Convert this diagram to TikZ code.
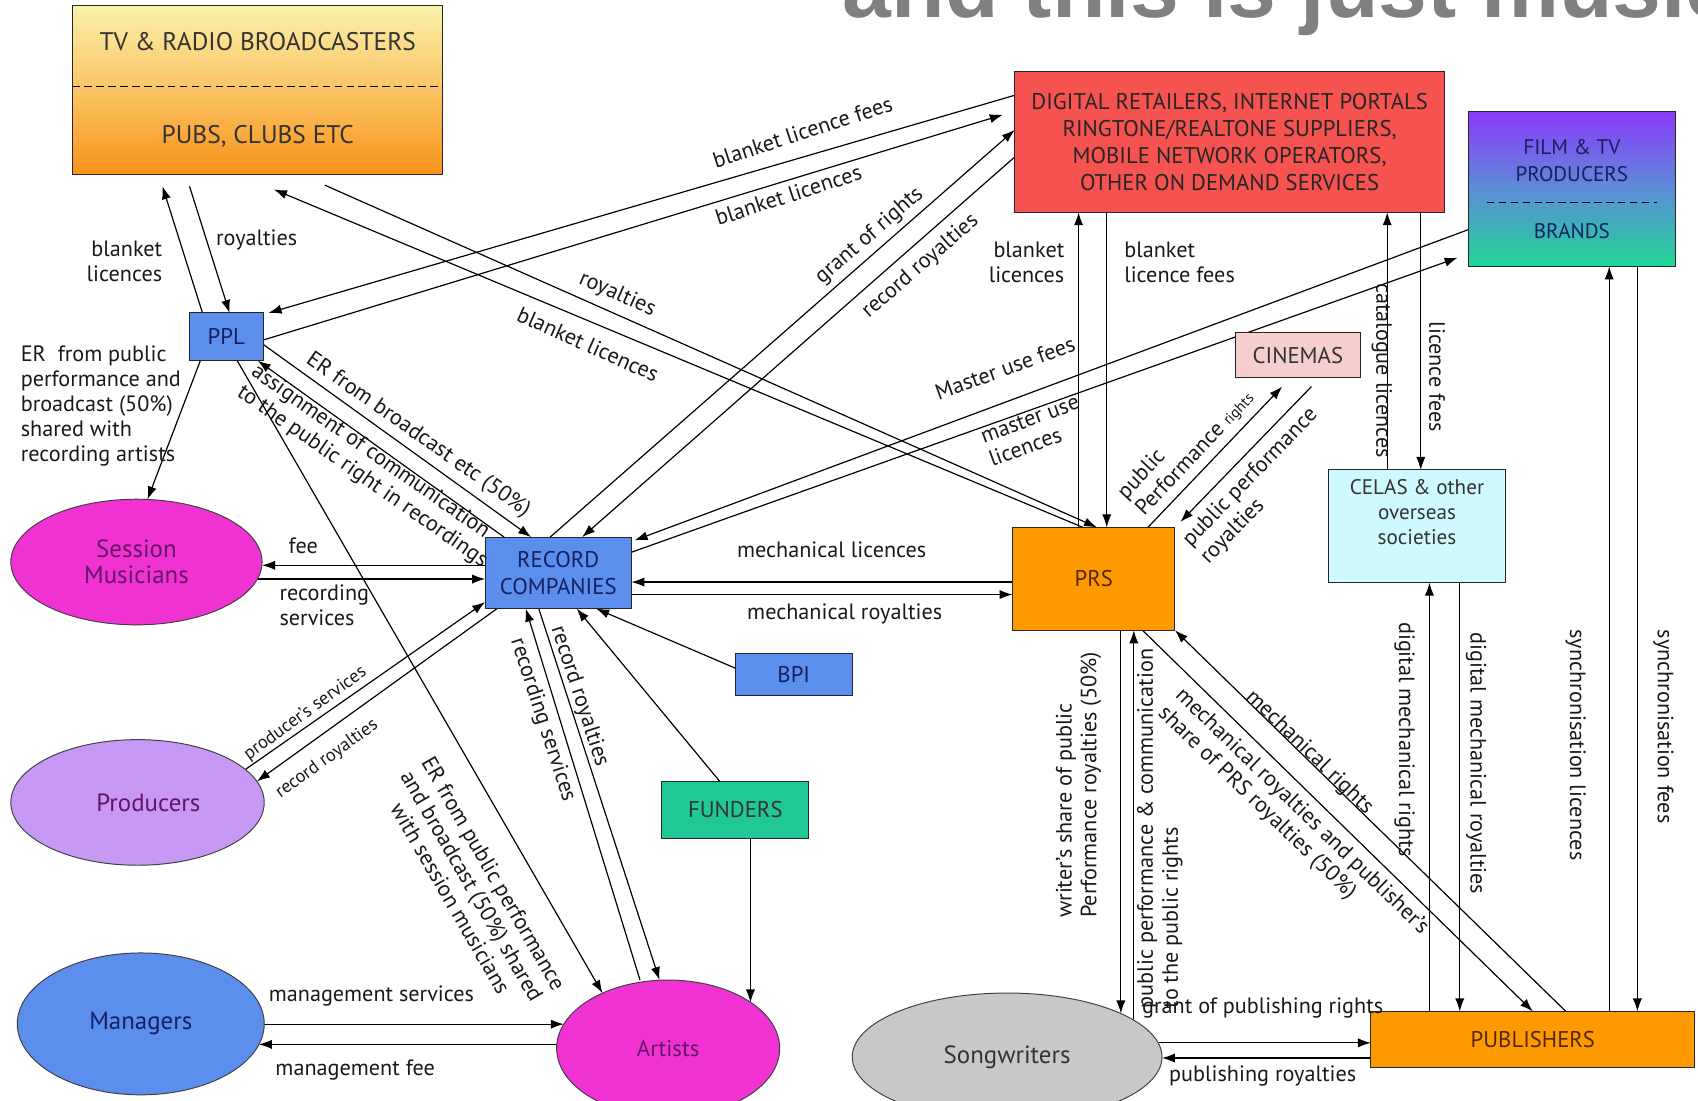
\documentclass[tikz,border=0pt]{standalone}
\usepackage{fontspec}
\setmainfont{PT Sans}
\newfontfamily\titlefont{Liberation Sans}
\usetikzlibrary{shapes.geometric,arrows.meta}

\definecolor{recblue}{RGB}{92,142,238}
\definecolor{hotpink}{RGB}{240,50,210}
\definecolor{lavender}{RGB}{200,152,245}
\definecolor{retred}{RGB}{245,82,80}
\definecolor{prsorange}{RGB}{255,153,0}
\definecolor{cinpink}{RGB}{246,206,206}
\definecolor{celascyan}{RGB}{206,250,255}
\definecolor{fundgreen}{RGB}{32,200,150}
\definecolor{songgray}{RGB}{200,200,200}
\definecolor{tvtop}{RGB}{251,241,170}
\definecolor{tvmid}{RGB}{250,196,100}
\definecolor{tvbot}{RGB}{248,146,26}
\definecolor{filmtop}{RGB}{140,58,250}
\definecolor{filmmid}{RGB}{92,140,215}
\definecolor{filmbot}{RGB}{32,215,150}
\definecolor{navytext}{RGB}{22,32,96}
\definecolor{purpletext}{RGB}{100,20,100}
\definecolor{browntext}{RGB}{80,40,0}
\definecolor{titlegray}{RGB}{128,128,128}

\newcommand{\boxfont}{\fontsize{21}{25}\selectfont}
\newcommand{\bigboxfont}{\fontsize{23}{24}\selectfont}
\newcommand{\smallboxfont}{\fontsize{19.5}{24}\selectfont}
\newcommand{\lblfont}{\fontsize{20.5}{23}\selectfont}
\newcommand{\minorlbl}{\fontsize{17}{19}\selectfont}
\newcommand{\tinylbl}{\fontsize{14}{16}\selectfont}

\pgfdeclarelayer{background}
\pgfsetlayers{background,main}

\tikzset{
  box/.style={draw=black!85, line width=0.9pt, rectangle, inner sep=0pt, outer sep=0pt, align=center, font=\boxfont},
  oval/.style={draw=black!75, line width=0.9pt, ellipse, inner sep=0pt, outer sep=0pt, align=center, font=\bigboxfont},
  lbl/.style={inner sep=0pt, align=center, font=\lblfont, text=black!90},
  flow/.style={-{Latex[length=12pt,width=8.5pt]}, line width=1.1pt},
  divider/.style={line width=1pt, dash pattern=on 7pt off 4pt},
}

\begin{document}
\begin{tikzpicture}[x=1pt,y=-1pt]
  \useasboundingbox (0,0) rectangle (1568,1016);

  % Define nodes
  \node[anchor=base west, inner sep=0pt, text=titlegray, font=\titlefont\bfseries\fontsize{81}{81}\selectfont] (title) at (778,16) {and this is just music};
  \node[box, font=\fontsize{23.5}{25}\selectfont, minimum width=342pt, minimum height=156pt, top color=tvtop, bottom color=tvbot, middle color=tvmid, text=black!80] (tvpubs) at (238,83) {TV \& RADIO BROADCASTERS\\[61pt]PUBS, CLUBS ETC};
  \node[box, minimum width=397pt, minimum height=130pt, fill=retred, text=black!85] (digital) at (1135.5,131) {DIGITAL RETAILERS, INTERNET PORTALS\\RINGTONE/REALTONE SUPPLIERS,\\MOBILE NETWORK OPERATORS,\\OTHER ON DEMAND SERVICES};
  \node[box, font=\smallboxfont, minimum width=191pt, minimum height=143pt, top color=filmtop, bottom color=filmbot, middle color=filmmid, text=navytext] (film) at (1451.5,174.5) {FILM \& TV\\[1pt]PRODUCERS\\[28pt]BRANDS};
  \node[box, minimum width=68pt, minimum height=44pt, fill=recblue, text=navytext] (ppl) at (209,311) {PPL};
  \node[box, minimum width=115pt, minimum height=42pt, fill=cinpink, text=black!80] (cinemas) at (1198.5,328) {CINEMAS};
  \node[box, font=\fontsize{19.5}{23}\selectfont, minimum width=163pt, minimum height=104pt, fill=celascyan, text=black!80, text depth=27pt] (celas) at (1308.5,486) {CELAS \& other\\overseas\\societies};
  \node[box, minimum width=135pt, minimum height=66pt, fill=recblue, text=navytext] (rc) at (515.5,529) {RECORD\\COMPANIES};
  \node[box, minimum width=150pt, minimum height=95pt, fill=prsorange, text=browntext] (prs) at (1010,534.5) {PRS};
  \node[box, minimum width=108pt, minimum height=39pt, fill=recblue, text=navytext] (bpi) at (733,622.5) {BPI};
  \node[box, minimum width=136pt, minimum height=52pt, fill=fundgreen, text=black!80] (funders) at (679,748) {FUNDERS};
  \node[box, minimum width=299pt, minimum height=52pt, fill=prsorange, text=browntext] (pub) at (1415.5,960) {PUBLISHERS};
  \node[oval, minimum width=232pt, minimum height=116pt, fill=hotpink, text=purpletext] (session) at (126,519) {Session\\Musicians};
  \node[oval, minimum width=234pt, minimum height=116pt, fill=lavender, text=purpletext] (producers) at (127,741) {\hspace*{20pt}Producers};
  \node[oval, minimum width=228pt, minimum height=131pt, fill=recblue, text=navytext] (managers) at (130,945.5) {Managers};
  \node[oval, font=\boxfont, minimum width=206pt, minimum height=126pt, fill=hotpink, text=purpletext] (artists) at (617,968) {Artists};
  \node[oval, minimum width=286pt, minimum height=118pt, fill=songgray, text=black!80] (songw) at (930,976) {Songwriters};

  \draw[divider] ([yshift=3pt]tvpubs.west) -- ([yshift=3pt]tvpubs.east);
  \draw[divider] ([xshift=17pt,yshift=-12.5pt]film.west) -- ([xshift=-17pt,yshift=-12.5pt]film.east);

  % Connect the nodes
  \begin{pgfonlayer}{background}
  \draw[flow] ([xshift=-22pt]ppl.north) -- ([xshift=-88pt,yshift=-11pt]tvpubs.south);
  \draw[flow] ([xshift=-63pt,yshift=-11pt]tvpubs.south) -- ([xshift=3pt]ppl.north);
  \draw[flow] ([yshift=43pt]digital.west) -- ([xshift=5pt]ppl.north east);
  \draw[flow] ([yshift=-3pt]ppl.east) -- ([xshift=-11pt,yshift=25pt]digital.west);
  \draw[flow] ([xshift=-7.5pt]rc.north) -- ([yshift=11pt]digital.west);
  \draw[flow] ([yshift=-14pt]digital.west) -- ([xshift=22pt]rc.north);
  \draw[flow] ([yshift=-7pt]ppl.east) -- ([xshift=-25pt]rc.north);
  \draw[flow] ([xshift=-50pt]rc.north) -- ([xshift=-5pt]ppl.south east);
  \draw[flow] ([xshift=62pt,yshift=-10pt]tvpubs.south) -- ([xshift=3pt]prs.north);
  \draw[flow] ([xshift=-10pt]prs.north) -- ([xshift=15pt,yshift=-14pt]tvpubs.south);
  \draw[flow] ([xshift=-24pt]ppl.south) -- (session.80);
  \draw[flow] ([xshift=10pt]ppl.south) -- (artists.140);
  \draw[flow] ([yshift=7pt]rc.west) -- ([yshift=7pt]rc.west -| session.east);
  \draw[flow] (session.352) -- (session.352 -| rc.west);
  \draw[flow] (producers.17) -- ([yshift=-27pt]rc.west);
  \draw[flow] ([xshift=11pt]rc.south west) -- (producers.10);
  \draw[flow] ([xshift=-26pt]artists.north) -- ([xshift=-30pt]rc.south);
  \draw[flow] ([xshift=-18pt]rc.south) -- ([xshift=-8pt]artists.north);
  \draw[flow] ([yshift=5.5pt]bpi.west) -- ([xshift=35pt]rc.south);
  \draw[flow] ([xshift=-14pt]funders.north) -- ([xshift=17pt]rc.south);
  \draw[flow] ([xshift=14pt]funders.south) -- ([xshift=14pt]funders.south |- artists.29);
  \draw[flow] (managers.east |- artists.167) -- (artists.167);
  \draw[flow] (artists.178) -- (artists.178 -| managers.350);
  \draw[flow] ([yshift=-3pt]prs.west) -- ([yshift=-3pt]prs.west -| rc.east);
  \draw[flow] ([yshift=-20pt]rc.east) -- ([yshift=-20pt]rc.east -| prs.west);
  \draw[flow] ([xshift=-14pt]prs.north) -- ([xshift=-14pt]prs.north |- digital.south);
  \draw[flow] ([xshift=12pt]prs.north |- digital.south) -- ([xshift=12pt]prs.north);
  \draw[flow] ([yshift=-37.5pt]film.west) -- ([xshift=3pt,yshift=-3pt]rc.north east);
  \draw[flow] ([yshift=-14pt]rc.north east) -- ([xshift=-10pt,yshift=8pt]film.south west);
  \draw[flow] ([xshift=-25pt]prs.north east) -- ([xshift=-14.5pt,yshift=-8pt]cinemas.south);
  \draw[flow] ([xshift=12.5pt,yshift=-8pt]cinemas.south) -- ([xshift=5pt,yshift=5pt]prs.north east);
  \draw[flow] ([xshift=-27.5pt]celas.north) -- ([xshift=-27.5pt]celas.north |- digital.south);
  \draw[flow] ([xshift=3.5pt]celas.north |- digital.south) -- ([xshift=3.5pt]celas.north);
  \draw[flow] ([xshift=-95.5pt]pub.north) -- ([xshift=-95.5pt]pub.north |- celas.south);
  \draw[flow] ([xshift=-67.5pt]pub.north |- celas.south) -- ([xshift=-67.5pt]pub.north);
  \draw[flow] ([xshift=70.5pt]pub.north) -- ([xshift=70.5pt]pub.north |- film.south);
  \draw[flow] ([xshift=96.5pt]pub.north |- film.south) -- ([xshift=96.5pt]pub.north);
  \draw[flow] ([xshift=30.5pt]pub.north) -- (prs.south east);
  \draw[flow] ([xshift=45pt]prs.south) -- (pub.north);
  \draw[flow] ([xshift=25pt]prs.south) -- ([xshift=25pt]prs.south |- songw.21);
  \draw[flow] ([xshift=37pt]prs.south |- songw.16) -- ([xshift=37pt]prs.south);
  \draw[flow] ([yshift=-3pt]pub.west -| songw.5) -- ([yshift=-3pt]pub.west);
  \draw[flow] ([yshift=-17pt]pub.west) -- ([yshift=-17pt]pub.west -| songw.east);
  \end{pgfonlayer}

  % Labels
  \node[lbl, align=right, anchor=east] (blppl) at (150,241) {blanket\\licences};
  \node[lbl] (royppl) at (237,222) {royalties};
  \node[lbl, rotate=18] (blfeesppl) at (741,122) {blanket licence fees};
  \node[lbl, rotate=18] (bldig) at (728,180) {blanket licences};
  \node[lbl, rotate=-24] (royprs) at (570,272) {royalties};
  \node[lbl, rotate=-24] (blprs) at (543,318) {blanket licences};
  \node[lbl, rotate=41] (grant) at (803,218) {grant of rights};
  \node[lbl, rotate=41] (recroydig) at (850,246) {record royalties};
  \node[lbl, rotate=-35] (erbroad) at (386,402) {ER from broadcast etc (50\%)};
  \node[lbl, rotate=-35, align=left] (assign) at (341,431) {assignment of communication\\to the public right in recordings};
  \node[lbl, align=left, anchor=west] (ersession) at (19,375) {ER\ \ from public\\performance and\\broadcast (50\%)\\shared with\\recording artists};
  \node[lbl] (fee) at (280,504) {fee};
  \node[lbl, align=left, anchor=west] (recserv) at (258,559) {recording\\services};
  \node[lbl, font=\minorlbl, rotate=36] (prodserv) at (282,659) {producer's services};
  \node[lbl, font=\minorlbl, rotate=36] (prodroy) at (302,701) {record royalties};
  \node[lbl, rotate=-60] (erartists) at (436,818) {ER from public performance\\and broadcast (50\%) shared\\with session musicians};
  \node[lbl, rotate=-72] (artserv) at (501,665) {recording services};
  \node[lbl, rotate=-72] (artroy) at (535,643) {record royalties};
  \node[lbl] (mgtserv) at (343,920) {management services};
  \node[lbl] (mgtfee) at (328,988) {management fee};
  \node[lbl] (mechlic) at (768,508) {mechanical licences};
  \node[lbl] (mechroy) at (780,567) {mechanical royalties};
  \node[lbl, align=right, anchor=east] (bldr) at (983,242) {blanket\\licences};
  \node[lbl, align=left, anchor=west] (blfeesdr) at (1038,242) {blanket\\licence fees};
  \node[lbl, rotate=20] (masterfees) at (928,340) {Master use fees};
  \node[lbl, rotate=20, align=left] (masterlic) at (955,398) {master use\\licences};
  \node[lbl, rotate=47, align=left] (pubperf) at (1095,411) {public\\Performance {\tinylbl rights}};
  \node[lbl, rotate=46, align=left] (pubroy) at (1163,449) {public performance\\royalties};
  \node[lbl, rotate=-90] (catalogue) at (1276,342) {catalogue licences};
  \node[lbl, rotate=-90] (celasfees) at (1327,348) {licence fees};
  \node[lbl, rotate=-90] (digrights) at (1297,683) {digital mechanical rights};
  \node[lbl, rotate=-90] (digroy) at (1363,705) {digital mechanical royalties};
  \node[lbl, rotate=-90] (synclic) at (1455,688) {synchronisation licences};
  \node[lbl, rotate=-90] (syncfees) at (1536,671) {synchronisation fees};
  \node[lbl, rotate=-44] (mechrights) at (1209,695) {mechanical rights};
  \node[lbl, rotate=-44, align=left] (mechshare) at (1194,758) {mechanical royalties and publisher's\\share of PRS royalties (50\%)};
  \node[lbl, rotate=90, align=left] (writer) at (996,725) {writer's share of public\\Performance royalties (50\%)};
  \node[lbl, rotate=90, align=left] (commrights) at (1071,765) {public performance \& communication\\to the public rights};
  \node[lbl] (grantpub) at (1166,931) {grant of publishing rights};
  \node[lbl] (pubroyal) at (1166,994) {publishing royalties};

\end{tikzpicture}
\end{document}
